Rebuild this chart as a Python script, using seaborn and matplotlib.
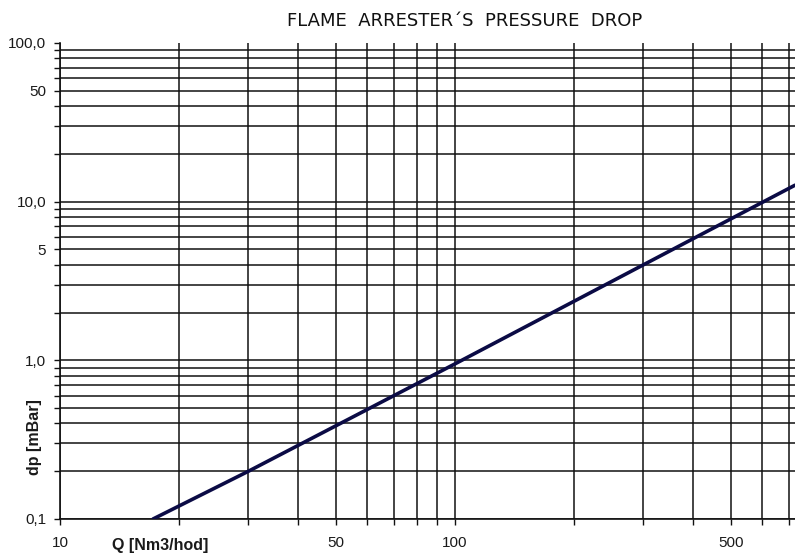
import numpy as np
import pandas as pd
import matplotlib
matplotlib.use('Agg')
import matplotlib.pyplot as plt
import seaborn as sns

# Data (log-log, dp vs Q)
q_values = [17.2, 30, 100, 300, 726]
dp_values = [0.1, 0.2, 0.95, 4.0, 12.7]

# Grid / tick positions
x_grid = [10, 20, 30, 40, 50, 60, 70, 80, 90, 100, 200, 300, 400, 500, 600, 700]
x_labels = {10: '10', 50: '50', 100: '100', 500: '500'}
y_grid = [0.1, 0.2, 0.3, 0.4, 0.5, 0.6, 0.7, 0.8, 0.9,
          1, 2, 3, 4, 5, 6, 7, 8, 9,
          10, 20, 30, 40, 50, 60, 70, 80, 90, 100]
y_labels = {0.1: '0,1', 1: '1,0', 5: '5', 10: '10,0', 50: '50', 100: '100,0'}

df = pd.DataFrame({'Q': q_values, 'dp': dp_values})

sns.set_style('white')
plt.rcParams['font.family'] = ['Liberation Sans', 'DejaVu Sans']

fig = plt.figure(figsize=(7.95, 5.53), dpi=100)
ax = fig.add_axes([60 / 795, 34 / 553, 735 / 795, 476 / 553])

ax.set_xscale('log')
ax.set_yscale('log')
ax.set_xlim(10, 726)
ax.set_ylim(0.1, 100)

sns.lineplot(data=df, x='Q', y='dp', ax=ax, color='#0b0b45', linewidth=2.6,
             estimator=None, zorder=5)

ax.xaxis.set_major_locator(matplotlib.ticker.FixedLocator(x_grid))
ax.xaxis.set_minor_locator(matplotlib.ticker.NullLocator())
ax.set_xticklabels([x_labels.get(v, '') for v in x_grid])
ax.yaxis.set_major_locator(matplotlib.ticker.FixedLocator(y_grid))
ax.yaxis.set_minor_locator(matplotlib.ticker.NullLocator())
ax.set_yticklabels([y_labels.get(v, '') for v in y_grid])

ax.grid(True, which='major', color='#111111', linewidth=1.1)
# no grid line along the top edge (100)
ax.yaxis.get_gridlines()[-1].set_visible(False)

for side in ['top', 'right']:
    ax.spines[side].set_visible(False)
for side in ['left', 'bottom']:
    ax.spines[side].set_color('#111111')
    ax.spines[side].set_linewidth(1.2)

ax.tick_params(axis='x', direction='out', length=4, width=1, color='#111111',
               labelsize=11, labelcolor='#1a1a1a', pad=8.5, bottom=True)
ax.tick_params(axis='y', direction='out', length=4, width=1, color='#111111',
               labelsize=11, labelcolor='#1a1a1a', pad=6, left=True)

ax.set_xlabel('Q [Nm3/hod]', fontsize=11.5, fontweight='bold', color='#1a1a1a')
ax.xaxis.set_label_coords(0.136, -0.040)
ax.set_ylabel('dp [mBar]', fontsize=11.5, fontweight='bold', color='#1a1a1a')
ax.yaxis.set_label_coords(-0.0245, 0.172)

fig.text(465 / 795, 1 - 21 / 553, 'FLAME  ARRESTER´S  PRESSURE  DROP',
         ha='center', va='center', fontsize=13, color='#111111',
         family=['DejaVu Sans'])

fig.savefig('out.png', dpi=100)
